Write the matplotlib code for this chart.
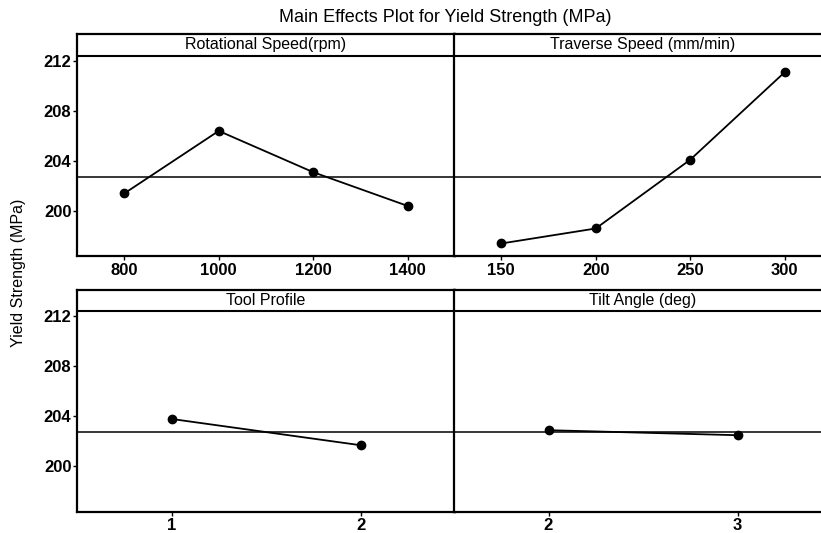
import numpy as np
import matplotlib
matplotlib.use('Agg')
import matplotlib.pyplot as plt
import matplotlib.transforms as mtransforms

plt.rcParams['font.family'] = ['Liberation Sans', 'DejaVu Sans']

# data
rot_speed = [800, 1000, 1200, 1400]
rot_ys = [201.4, 206.4, 203.1, 200.4]

trav_speed = [150, 200, 250, 300]
trav_ys = [197.4, 198.6, 204.1, 211.1]

tool_profile = [1, 2]
tool_ys = [203.8, 201.7]

tilt_angle = [2, 3]
tilt_ys = [202.9, 202.5]

grand_mean = 202.75
ytick_vals = [200, 204, 208, 212]
titles = ['Rotational Speed(rpm)', 'Traverse Speed (mm/min)', 'Tool Profile', 'Tilt Angle (deg)']

fig = plt.figure(figsize=(8.21, 5.33), dpi=100)

W, H = 821.0, 533.0
pw = 378.0 / W
ph = 222.0 / H
lefts = [77.0 / W, 454.0 / W]
bottoms = [1 - 256.0 / H, 1 - 511.5 / H]

panels = [(rot_speed, rot_ys), (trav_speed, trav_ys), (tool_profile, tool_ys), (tilt_angle, tilt_ys)]

ylo, yhi, yhead = 196.4, 214.15, 212.4

for i, (xs, ys) in enumerate(panels):
    r, c = divmod(i, 2)
    ax = fig.add_axes([lefts[c], bottoms[r], pw, ph])
    step = xs[1] - xs[0]
    ax.set_xlim(xs[0] - step / 2, xs[-1] + step / 2)
    ax.set_ylim(ylo, yhi)
    ax.axhline(grand_mean, color='black', lw=1.1, zorder=1)
    ax.axhline(yhead, color='black', lw=1.5, zorder=1)
    ax.plot(xs, ys, color='black', lw=1.3, marker='o', markersize=6, zorder=3)
    trans = mtransforms.blended_transform_factory(ax.transAxes, ax.transData)
    ax.text(0.5, (yhead + yhi) / 2, titles[i], transform=trans, ha='center', va='center',
            fontsize=11.5, clip_on=False)
    for s in ax.spines.values():
        s.set_linewidth(1.6)
    ax.set_xticks(xs)
    ax.tick_params(axis='x', length=3, width=1, pad=2, labelsize=12)
    for lab in ax.get_xticklabels():
        lab.set_fontweight('bold')
    if c == 0:
        ax.set_yticks(ytick_vals)
        ax.tick_params(axis='y', length=3, width=1, pad=1, labelsize=12)
        for lab in ax.get_yticklabels():
            lab.set_fontweight('bold')
    else:
        ax.set_yticks([])

fig.text(445.0 / W, 1 - 18.0 / H, 'Main Effects Plot for Yield Strength (MPa)',
         ha='center', va='center', fontsize=13)
fig.text(18.0 / W, 1 - 273.0 / H, 'Yield Strength (MPa)', rotation=90,
         ha='center', va='center', fontsize=11.5)

plt.savefig('out.png', dpi=100)
